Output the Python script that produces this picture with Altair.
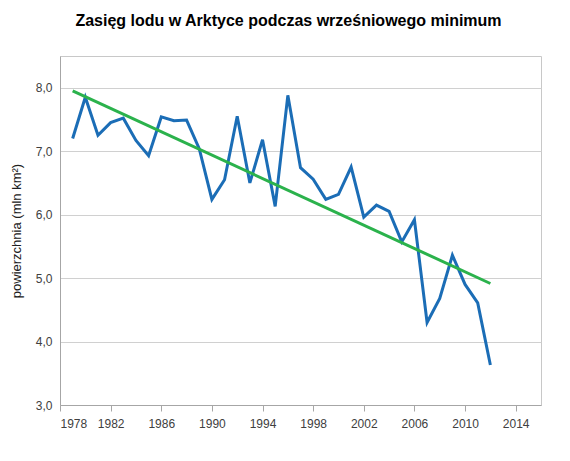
import altair as alt
import pandas as pd

years = list(range(1979, 2013))
extent = [7.20, 7.85, 7.25, 7.45, 7.52, 7.17, 6.93, 7.54, 7.48, 7.49,
          7.04, 6.24, 6.55, 7.55, 6.50, 7.18, 6.13, 7.88, 6.74, 6.56,
          6.24, 6.32, 6.75, 5.96, 6.15, 6.05, 5.57, 5.92, 4.30, 4.68,
          5.36, 4.90, 4.61, 3.63]
x_ticks = list(range(1978, 2015, 4))
y_ticks = [3, 4, 5, 6, 7, 8]

df = pd.DataFrame({"rok": years, "zasieg": extent})

font = "Liberation Sans"

x = alt.X("rok:Q", scale=alt.Scale(domain=[1978, 2016], nice=False),
          axis=alt.Axis(values=x_ticks, format="d", title=None, grid=False,
                        domainColor="#a6a6a6", tickColor="#a6a6a6", tickSize=6,
                        labelFont=font, labelFontSize=12, labelColor="#404040",
                        labelPadding=7))
y = alt.Y("zasieg:Q", scale=alt.Scale(domain=[3, 8.5], nice=False, zero=False),
          axis=alt.Axis(values=y_ticks, title="powierzchnia (mln km²)",
                        labelExpr="replace(format(datum.value, '.1f'), '.', ',')",
                        grid=True, gridColor="#d0d0d0", gridWidth=1,
                        domainColor="#a6a6a6", ticks=False,
                        labelFont=font, labelFontSize=12, labelColor="#404040",
                        labelPadding=8, titleFont=font, titleFontSize=13,
                        titleFontWeight="normal", titleColor="#202020",
                        titlePadding=12))

line = alt.Chart(df).mark_line(color="#1b6db6", strokeWidth=3, strokeJoin="miter").encode(x=x, y=y)
trend = alt.Chart(df).transform_regression("rok", "zasieg").mark_line(
    color="#2bb24c", strokeWidth=3).encode(x=x, y=y)

chart = alt.layer(line, trend).properties(
    width=481, height=349,
    title=alt.TitleParams("Zasięg lodu w Arktyce podczas wrześniowego minimum",
                          font=font, fontSize=16, fontWeight="bold", color="#000000",
                          anchor="middle", offset=27, dx=-12),
    autosize=alt.AutoSizeParams(type="none"),
    padding={"left": 52, "top": 48, "right": 21, "bottom": 48},
).configure_view(stroke="#c8c8c8", strokeWidth=1)

chart.save("out.html", embed_options={"renderer": "svg", "actions": False})
